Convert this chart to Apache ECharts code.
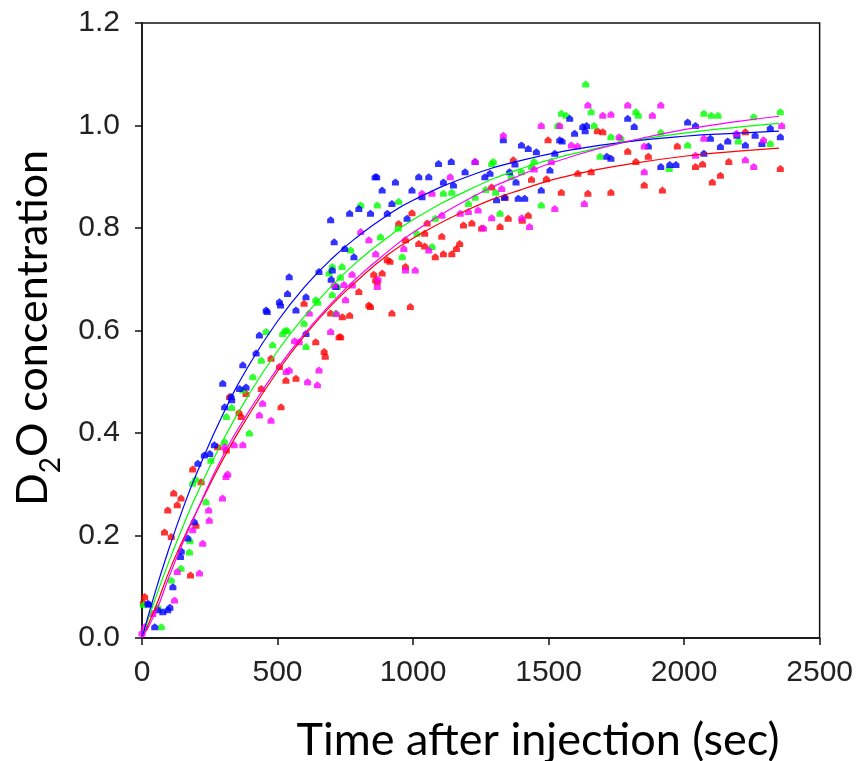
<!DOCTYPE html>
<html>
<head>
<meta charset="utf-8">
<script src="https://cdn.jsdelivr.net/npm/echarts@6/dist/echarts.min.js"></script>
<style>html,body{margin:0;padding:0;background:#fff;}#c{width:856px;height:761px;}</style>
</head>
<body>
<div id="c"></div>
<script>
var xTicks = [0, 500, 1000, 1500, 2000, 2500];
var yTicks = [0.0, 0.2, 0.4, 0.6, 0.8, 1.0, 1.2];
var xTitle = "Time after injection (sec)";
var yTitleParts = ["D", "2", "O concentration"];

var redPts = [[5,0.07],[10,0.081],[83,0.207],[95,0.25],[108,0.198],[117,0.283],[130,0.26],[144,0.273],[179,0.123],[187,0.33],[199,0.22],[218,0.305],[279,0.373],
[311,0.367],[323,0.471],[358,0.44],[366,0.432],[384,0.477],[440,0.487],[476,0.546],[507,0.53],[513,0.451],[531,0.503],[568,0.507],[598,0.653],[641,0.578],[672,0.559],[676,0.55],[696,0.634],[727,0.588],[733,0.588],
[739,0.627],[766,0.63],[800,0.676],[837,0.65],[843,0.647],[855,0.71],[862,0.699],[868,0.695],[886,0.712],[905,0.738],[915,0.735],[922,0.634],[947,0.809],[972,0.777],[972,0.725],[990,0.647],[996,0.83],[1021,0.77],[1043,0.765],[1043,0.79],[1052,0.81],[1082,0.744],[1106,0.784],[1112,0.75],[1143,0.75],[1160,0.76],[1172,0.77],[1186,0.806],[1217,0.81],[1253,0.8],[1290,0.88],[1321,0.803],[1340,0.86],[1351,0.819],[1370,0.933],[1403,0.815],[1425,0.825],[1437,0.895],[1492,0.896],[1498,0.972],[1547,0.87],[1608,0.907],[1645,0.868],[1657,0.91],[1680,0.99],[1700,0.988],[1730,0.87],[1792,0.95],[1822,0.93],[1853,0.884],[1868,0.94],[1920,0.874],[1975,0.96],[2042,0.92],[2068,0.925],[2104,0.89],[2134,0.903],[2165,0.93],[2226,0.988],[2355,0.916]];

var greenPts = [[5,0.065],[59,0.06],[71,0.022],[108,0.113],[144,0.136],[175,0.168],[177,0.19],[187,0.302],[198,0.31],[236,0.266],[254,0.347],[305,0.383],[311,0.432],[331,0.45],[372,0.484],[396,0.4],[409,0.51],[440,0.542],[458,0.598],[482,0.572],[519,0.594],[528,0.6],[536,0.6],[598,0.614],[605,0.569],[641,0.66],[648,0.655],[690,0.712],[702,0.725],[702,0.67],[715,0.634],[721,0.686],[732,0.704],[738,0.725],[770,0.757],[807,0.845],[868,0.845],[880,0.783],[945,0.8],[947,0.852],[960,0.744],[1014,0.79],[1070,0.764],[1082,0.819],[1112,0.868],[1143,0.87],[1204,0.848],[1229,0.86],[1268,0.875],[1290,0.926],[1296,0.93],[1305,0.87],[1321,0.829],[1362,0.9],[1400,0.91],[1437,0.92],[1446,0.93],[1473,0.845],[1534,1.0],[1547,1.024],[1565,1.02],[1637,1.081],[1657,1.027],[1668,1.0],[1690,0.94],[1730,0.978],[1767,0.975],[1822,1.027],[1831,1.02],[1914,0.987],[1945,0.916],[2013,0.962],[2073,1.024],[2100,1.02],[2125,1.02],[2200,0.97],[2257,1.017],[2318,0.965],[2355,1.027]];

var bluePts = [[22,0.068],[26,0.066],[47,0.022],[59,0.055],[77,0.051],[95,0.055],[103,0.06],[114,0.1],[142,0.159],[145,0.17],[169,0.195],[193,0.227],[206,0.341],[230,0.357],[250,0.36],[267,0.377],[298,0.497],[305,0.451],[329,0.471],[331,0.465],[360,0.487],[372,0.533],[384,0.49],[421,0.556],[433,0.591],[458,0.64],[462,0.637],[507,0.656],[511,0.65],[537,0.672],[543,0.705],[568,0.64],[605,0.666],[605,0.594],[653,0.715],[696,0.816],[698,0.7],[702,0.718],[709,0.773],[715,0.686],[748,0.76],[766,0.829],[782,0.744],[800,0.838],[843,0.829],[860,0.9],[866,0.9],[886,0.874],[905,0.829],[922,0.848],[935,0.89],[978,0.819],[996,0.874],[1021,0.9],[1033,0.861],[1058,0.9],[1094,0.926],[1112,0.89],[1141,0.93],[1149,0.884],[1192,0.91],[1229,0.93],[1265,0.9],[1284,0.907],[1308,0.855],[1333,0.972],[1337,0.86],[1356,0.91],[1376,0.925],[1380,0.89],[1388,0.858],[1400,0.962],[1412,0.858],[1425,0.955],[1455,0.949],[1473,0.874],[1505,0.913],[1523,0.946],[1541,0.972],[1550,0.97],[1578,1.014],[1596,0.985],[1626,0.998],[1635,0.99],[1640,1.0],[1715,0.94],[1730,0.936],[1792,1.014],[1816,0.998],[1868,0.96],[1914,0.92],[1947,0.924],[1970,0.924],[2013,1.007],[2042,1.0],[2073,0.946],[2097,0.975],[2134,0.959],[2161,0.97],[2195,0.981],[2226,0.962],[2262,0.981],[2287,0.965],[2318,0.995],[2355,0.978]];

var magentaPts = [[0,0.01],[10,0.022],[40,0.048],[120,0.074],[130,0.13],[187,0.211],[212,0.127],[224,0.185],[246,0.25],[248,0.23],[297,0.273],[305,0.373],[310,0.315],[316,0.32],[340,0.377],[372,0.377],[433,0.435],[445,0.458],[476,0.425],[532,0.52],[543,0.523],[563,0.58],[580,0.578],[611,0.5],[617,0.634],[647,0.494],[653,0.523],[696,0.598],[709,0.689],[717,0.633],[745,0.69],[751,0.66],[775,0.71],[776,0.689],[807,0.793],[837,0.777],[862,0.75],[868,0.686],[871,0.7],[966,0.76],[972,0.718],[1008,0.718],[1033,0.868],[1058,0.757],[1070,0.868],[1106,0.825],[1137,0.9],[1174,0.829],[1204,0.832],[1229,0.93],[1240,0.835],[1260,0.8],[1290,0.82],[1327,0.877],[1333,0.981],[1401,0.82],[1430,0.803],[1447,0.915],[1473,1.0],[1510,0.93],[1523,0.838],[1541,1.0],[1584,0.962],[1607,0.96],[1632,0.848],[1645,1.04],[1700,1.02],[1730,1.022],[1760,0.978],[1792,1.04],[1853,0.91],[1853,0.96],[1883,1.02],[1914,1.04],[2042,0.942],[2073,0.975],[2193,0.985],[2226,0.933],[2257,0.92],[2293,0.972],[2360,1.0]];

var fitT = [0,50,100,150,200,300,400,500,600,700,800,900,1000,1200,1400,1600,1800,2000,2200,2350];
var redFit = [0,0.06,0.13,0.19,0.245,0.35,0.44,0.52,0.59,0.65,0.70,0.745,0.78,0.835,0.875,0.905,0.925,0.94,0.95,0.956];
var greenFit = [0,0.078,0.150,0.216,0.278,0.387,0.480,0.560,0.628,0.687,0.737,0.779,0.816,0.873,0.916,0.946,0.969,0.985,0.997,1.004];
var blueFit = [0,0.092,0.175,0.251,0.319,0.438,0.537,0.618,0.685,0.740,0.785,0.823,0.854,0.900,0.932,0.954,0.969,0.979,0.985,0.989];
var magentaFit = [0,0.05,0.12,0.185,0.245,0.357,0.447,0.526,0.594,0.654,0.706,0.751,0.791,0.855,0.904,0.942,0.970,0.992,1.008,1.018];

function pair(ts, vs){ return ts.map(function(t,i){ return [t, vs[i]]; }); }

var marker = 'path://M0,4 L5,0 L10,4 L10,10 L0,10 Z';
var tickFont = "'Liberation Sans Narrow', 'Liberation Sans', Arial, sans-serif";
var titleFont = "Lato, 'Open Sans', sans-serif";

function scatter(name, color, data){
  return {name:name, type:'scatter', data:data, symbol:marker, symbolSize:7,
    itemStyle:{color:color}, z:2, silent:true};
}
function fit(name, color, data){
  return {name:name, type:'line', data:data, smooth:true, showSymbol:false, symbol:'none',
    lineStyle:{color:color, width:1.2}, z:3, silent:true};
}

var chart = echarts.init(document.getElementById('c'), null, {renderer:'canvas'});
chart.setOption({
  animation:false,
  backgroundColor:'#fff',
  grid:{left:142, right:33, top:23, bottom:123, show:true, borderColor:'#111', borderWidth:1.5, backgroundColor:'transparent'},
  xAxis:{type:'value', min:0, max:2500, interval:500,
    axisLine:{show:true, onZero:false, lineStyle:{color:'#111', width:1.5}},
    axisTick:{show:true, inside:false, length:7, lineStyle:{color:'#111', width:1.5}},
    axisLabel:{color:'#222', fontFamily:tickFont, fontSize:30, margin:20,
      formatter:function(v){ return xTicks.indexOf(v) >= 0 ? String(v) : ''; }},
    splitLine:{show:false}},
  yAxis:{type:'value', min:0, max:1.2, interval:0.2,
    axisLine:{show:true, onZero:false, lineStyle:{color:'#111', width:1.5}},
    axisTick:{show:true, inside:false, length:7, lineStyle:{color:'#111', width:1.5}},
    axisLabel:{color:'#222', fontFamily:tickFont, fontSize:30, margin:22,
      formatter:function(v){ var r = Math.round(v*10)/10; return yTicks.indexOf(r) >= 0 ? r.toFixed(1) : ''; }},
    splitLine:{show:false}},
  graphic:[
    {type:'text', x:538, y:740, style:{text:xTitle, font:"45px " + titleFont, fill:'#000', align:'center', verticalAlign:'middle'}},
    {type:'text', x:30, y:328, rotation:Math.PI/2,
      style:{text:'{a|' + yTitleParts[0] + '}{s|' + yTitleParts[1] + '}{a|' + yTitleParts[2] + '}',
        align:'center', verticalAlign:'middle', fill:'#000',
        rich:{a:{fontFamily:titleFont, fontSize:43, lineHeight:50, fill:'#000', verticalAlign:'bottom'},
              s:{fontFamily:titleFont, fontSize:28, lineHeight:50, fill:'#000', verticalAlign:'bottom', padding:[0,0,-10,0]}}}}
  ],
  series:[
    scatter('red', '#ff0000', redPts),
    scatter('green', '#00ff00', greenPts),
    scatter('blue', '#0000ff', bluePts),
    scatter('magenta', '#ff00ff', magentaPts),
    fit('redFit', '#ff0000', pair(fitT, redFit)),
    fit('greenFit', '#00ff00', pair(fitT, greenFit)),
    fit('blueFit', '#0000ff', pair(fitT, blueFit)),
    fit('magentaFit', '#ff00ff', pair(fitT, magentaFit))
  ]
});
</script>
</body>
</html>
